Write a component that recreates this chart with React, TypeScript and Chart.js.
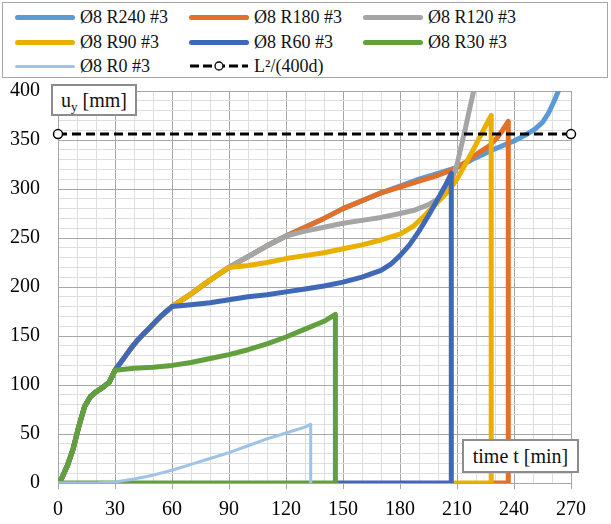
import React, { useEffect, useRef } from "react";
import { Chart, registerables } from "chart.js";

Chart.register(...registerables);

const FONT = "'Liberation Serif', 'DejaVu Serif', serif";

// Tick labels
const X_LABELS = [0, 30, 60, 90, 120, 150, 180, 210, 240, 270];
const Y_LABELS = [0, 50, 100, 150, 200, 250, 300, 350, 400];

// Shared initial segment (0–30 min)
const T_START = [0, 2, 5, 8, 11, 14, 17, 20, 24, 27, 30];
const U_START = [0, 5, 18, 35, 58, 78, 88, 93, 98, 103, 115];

// 30–60 min rise (R60 and longer)
const T_30_60 = [33, 36, 39, 42, 45, 48, 51, 54, 57, 60];
const U_30_60 = [123, 131, 139, 146, 152, 158, 164, 170, 175, 180];

// 60–90 min rise (R90 and longer)
const T_60_90 = [70, 80, 90];
const U_60_90 = [193, 207, 220];

// 90–120 min rise (R120 and longer)
const T_90_120 = [100, 110, 120];
const U_90_120 = [231, 242, 252];

// Ø8 R0 #3
const T_R0 = [0, 10, 20, 30, 40, 50, 60, 70, 80, 90, 100, 110, 120, 130, 133, 133];
const U_R0 = [0, 0, 0, 1, 4, 8, 13, 19, 25, 31, 38, 45, 51, 57, 60, 0];

// Ø8 R30 #3 (after 30 min)
const T_R30 = [40, 50, 60, 70, 80, 90, 100, 110, 120, 130, 140, 146, 146, 0];
const U_R30 = [117, 118, 120, 123, 127, 131, 136, 142, 149, 157, 165, 172, 0, 0];

// Ø8 R60 #3 (after 60 min)
const T_R60 = [70, 80, 90, 100, 110, 120, 130, 140, 150, 160, 170, 175, 180, 185, 190, 195, 200, 204, 207, 207, 146];
const U_R60 = [182, 184, 187, 190, 192, 195, 198, 201, 205, 210, 217, 223, 232, 243, 257, 273, 290, 304, 316, 0, 0];

// Ø8 R90 #3 (after 90 min)
const T_R90 = [100, 110, 120, 130, 140, 150, 160, 170, 180, 187, 192, 196, 200, 205, 210, 214, 218, 222, 225, 228, 228, 207];
const U_R90 = [222, 225, 229, 232, 235, 239, 243, 248, 254, 262, 271, 279, 287, 297, 310, 324, 338, 353, 364, 375, 0, 0];

// Ø8 R120 #3 (after 120 min)
const T_R120 = [130, 140, 150, 160, 170, 180, 187, 195, 200, 204, 207, 210, 212, 214, 216, 219];
const U_R120 = [257, 261, 265, 268, 271, 275, 278, 284, 290, 297, 308, 325, 342, 358, 376, 402];

// Ø8 R180 #3 (after 120 min)
const T_R180 = [130, 140, 150, 160, 170, 180, 190, 200, 208, 215, 220, 227, 231, 234, 237, 237, 228];
const U_R180 = [261, 270, 280, 288, 296, 302, 308, 314, 320, 328, 335, 344, 352, 360, 369, 0, 0];

// Ø8 R240 #3 (after 120 min)
const T_R240 = [130, 140, 150, 160, 170, 180, 190, 200, 210, 220, 230, 240, 246, 251, 255, 258, 261, 264];
const U_R240 = [261, 270, 280, 288, 296, 303, 310, 316, 322, 332, 341, 349, 355, 361, 368, 377, 389, 403];

// L²/(400d)
const T_LIMIT = [0, 270];
const U_LIMIT = [356, 356];

const pts = (t: number[], u: number[]) => t.map((x, i) => ({ x, y: u[i] }));

const MAJOR = "#a6a6a6";
const MINOR = "#dedede";

const C240 = "#5b9bd5";
const C180 = "#e0702a";
const C120 = "#a5a5a5";
const C90 = "#e9b000";
const C60 = "#3f69b8";
const C30 = "#62a03e";
const C0 = "#9dc3e6";

export default function App() {
  const ref = useRef<HTMLCanvasElement | null>(null);

  useEffect(() => {
    document.body.style.margin = "0";
    const canvas = ref.current;
    if (!canvas) return;

    const tR240 = [...T_START, ...T_30_60, ...T_60_90, ...T_90_120, ...T_R240];
    const uR240 = [...U_START, ...U_30_60, ...U_60_90, ...U_90_120, ...U_R240];
    const tR180 = [...T_START, ...T_30_60, ...T_60_90, ...T_90_120, ...T_R180];
    const uR180 = [...U_START, ...U_30_60, ...U_60_90, ...U_90_120, ...U_R180];
    const tR120 = [...T_START, ...T_30_60, ...T_60_90, ...T_90_120, ...T_R120];
    const uR120 = [...U_START, ...U_30_60, ...U_60_90, ...U_90_120, ...U_R120];
    const tR90 = [...T_START, ...T_30_60, ...T_60_90, ...T_R90];
    const uR90 = [...U_START, ...U_30_60, ...U_60_90, ...U_R90];
    const tR60 = [...T_START, ...T_30_60, ...T_R60];
    const uR60 = [...U_START, ...U_30_60, ...U_R60];
    const tR30 = [...T_START, ...T_R30];
    const uR30 = [...U_START, ...U_R30];

    const line = (label: string, t: number[], u: number[], color: string, w: number, order: number) => ({
      label,
      data: pts(t, u),
      borderColor: color,
      backgroundColor: color,
      borderWidth: w,
      showLine: true,
      pointRadius: 0,
      pointHoverRadius: 0,
      tension: 0,
      borderCapStyle: "round" as const,
      borderJoinStyle: "round" as const,
      clip: 0,
      order,
    });

    const chart = new Chart(canvas, {
      type: "scatter",
      data: {
        datasets: [
          {
            label: "L²/(400d)",
            data: pts(T_LIMIT, U_LIMIT),
            borderColor: "#000",
            backgroundColor: "#fff",
            borderWidth: 3,
            borderDash: [9, 5],
            showLine: true,
            pointRadius: 4.5,
            pointBorderWidth: 1.5,
            pointBorderColor: "#000",
            pointBackgroundColor: "#fff",
            clip: false,
            order: 0,
          } as any,
          line("Ø8 R0 #3", T_R0, U_R0, C0, 3, 1),
          line("Ø8 R30 #3", tR30, uR30, C30, 5, 2),
          line("Ø8 R60 #3", tR60, uR60, C60, 5, 3),
          line("Ø8 R90 #3", tR90, uR90, C90, 5, 4),
          line("Ø8 R120 #3", tR120, uR120, C120, 5, 5),
          line("Ø8 R180 #3", tR180, uR180, C180, 5, 6),
          line("Ø8 R240 #3", tR240, uR240, C240, 5, 7),
        ],
      },
      options: {
        animation: false,
        responsive: false,
        devicePixelRatio: 1,
        layout: { padding: { top: 91, right: 40, left: 0, bottom: 0 } },
        plugins: { legend: { display: false }, tooltip: { enabled: false } },
        scales: {
          x: {
            type: "linear",
            min: 0,
            max: 270,
            afterFit: (s: any) => {
              s.height = 41;
            },
            ticks: {
              stepSize: 10,
              autoSkip: false,
              maxRotation: 0,
              padding: 9,
              color: "#000",
              font: { family: FONT, size: 20 },
              callback: (v: any) => (X_LABELS.includes(Number(v)) ? String(v) : ""),
            },
            grid: {
              color: (c: any) => (c.tick && X_LABELS.includes(c.tick.value) ? MAJOR : MINOR),
              tickColor: (c: any) => (c.tick && X_LABELS.includes(c.tick.value) ? MAJOR : "rgba(0,0,0,0)"),
              tickLength: 6,
              lineWidth: 1,
            },
            border: { color: MAJOR },
          },
          y: {
            type: "linear",
            min: 0,
            max: 400,
            afterFit: (s: any) => {
              s.width = 58;
            },
            ticks: {
              stepSize: 10,
              autoSkip: false,
              padding: 18,
              color: "#000",
              font: { family: FONT, size: 20 },
              callback: (v: any) => (Y_LABELS.includes(Number(v)) ? String(v) : ""),
            },
            grid: {
              color: (c: any) => (c.tick && Y_LABELS.includes(c.tick.value) ? MAJOR : MINOR),
              drawTicks: false,
              lineWidth: 1,
            },
            border: { color: MAJOR },
          },
        },
      } as any,
    });

    return () => chart.destroy();
  }, []);

  const legendItems = [
    { label: "Ø8 R240 #3", color: C240, w: 5, col: 0, row: 0 },
    { label: "Ø8 R180 #3", color: C180, w: 5, col: 1, row: 0 },
    { label: "Ø8 R120 #3", color: C120, w: 5, col: 2, row: 0 },
    { label: "Ø8 R90 #3", color: C90, w: 5, col: 0, row: 1 },
    { label: "Ø8 R60 #3", color: C60, w: 5, col: 1, row: 1 },
    { label: "Ø8 R30 #3", color: C30, w: 5, col: 2, row: 1 },
    { label: "Ø8 R0 #3", color: C0, w: 3, col: 0, row: 2 },
    { label: "L²/(400d)", color: "dash", w: 3, col: 1, row: 2 },
  ];
  const colX = [15, 189, 363];
  const rowY = [17, 42, 66];

  return (
    <div style={{ position: "absolute", left: 0, top: 0, width: 611, height: 524, background: "#fff", fontFamily: FONT }}>
      <canvas ref={ref} width={611} height={524} style={{ position: "absolute", left: 0, top: 0, width: 611, height: 524 }} />
      <div
        style={{
          position: "absolute",
          left: 2,
          top: 2,
          width: 604,
          height: 74,
          border: "1.5px solid #a6a6a6",
          background: "#fff",
        }}
      />
      {legendItems.map((it, i) => {
        const x = colX[it.col];
        const y = rowY[it.row];
        return (
          <React.Fragment key={i}>
            {it.color === "dash" ? (
              <svg style={{ position: "absolute", left: x, top: y - 7 }} width={62} height={14}>
                <line x1={1} y1={7} x2={59} y2={7} stroke="#000" strokeWidth={3} strokeDasharray="9 4" />
                <circle cx={30} cy={7} r={4} fill="#fff" stroke="#000" strokeWidth={1.3} />
              </svg>
            ) : (
              <div
                style={{
                  position: "absolute",
                  left: x,
                  top: y - it.w / 2,
                  width: 60,
                  height: it.w,
                  borderRadius: it.w / 2,
                  background: it.color,
                }}
              />
            )}
            <div
              style={{
                position: "absolute",
                left: x + 65,
                top: y - 12,
                fontFamily: FONT,
                fontSize: 18,
                lineHeight: "24px",
                whiteSpace: "nowrap",
                color: "#111",
              }}
            >
              {it.label}
            </div>
          </React.Fragment>
        );
      })}
      <div
        style={{
          position: "absolute",
          left: 51,
          top: 84,
          width: 82,
          height: 28,
          border: "2px solid #8c8c8c",
          background: "#fff",
          fontFamily: FONT,
          fontSize: 20,
          lineHeight: "28px",
          textAlign: "center",
          color: "#111",
          whiteSpace: "nowrap",
        }}
      >
        u<sub style={{ fontSize: 13, verticalAlign: "-4px", lineHeight: 0 }}>y</sub> [mm]
      </div>
      <div
        style={{
          position: "absolute",
          left: 462,
          top: 439,
          width: 113,
          height: 30,
          border: "2px solid #8c8c8c",
          background: "#fff",
          fontFamily: FONT,
          fontSize: 20,
          lineHeight: "30px",
          textAlign: "center",
          color: "#111",
          whiteSpace: "nowrap",
        }}
      >
        time t [min]
      </div>
    </div>
  );
}
